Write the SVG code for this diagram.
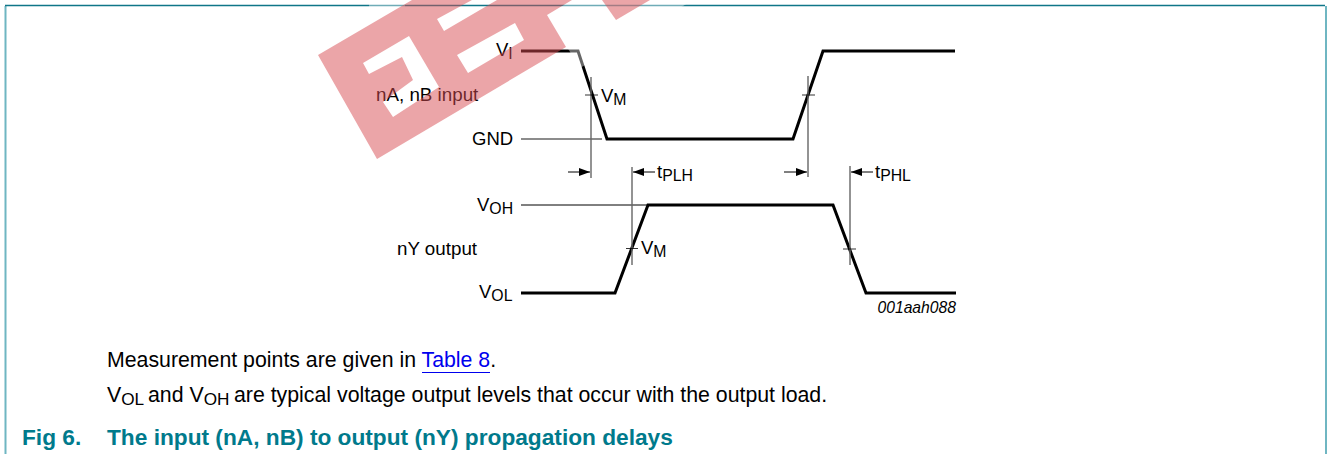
<svg xmlns="http://www.w3.org/2000/svg" width="1327" height="454" viewBox="0 0 1327 454">
<style>
text{font-family:"Liberation Sans",Arial,sans-serif;fill:#000}
.l{font-size:18.5px}
.n{font-size:18.8px}
.b{font-size:21.3px}
.s{baseline-shift:-3px;font-size:15.8px}
.b .s{font-size:17.2px}
.thick{fill:none;stroke:#000;stroke-width:3}
.thin{fill:none;stroke:#000;stroke-width:1}
.g{fill:none;stroke:#666;stroke-width:1.4}
.frame{fill:none;stroke-width:2}
.t{font-size:22.7px;font-weight:700;fill:#007a8c}
</style>
<defs>
<marker id="a" markerUnits="userSpaceOnUse" markerWidth="12" markerHeight="8" refX="11" refY="4" orient="auto"><path d="M0 0L11 4L0 8Z" fill="#000"/></marker>
</defs>
<rect width="1327" height="454" fill="#fff"/>
<g id="frame">
<path d="M5.5 454V6" class="frame" stroke="#6fb6c2"/>
<path d="M1326 454V6" class="frame" stroke="#6fb6c2"/>
<path d="M5 5.500H1325" fill="none" stroke="#0f7688" stroke-width="1.6"/>
</g>
<g id="waveforms">
<path class="thick" d="M521 51H578L607 139H793L823 51H955"/>
<path class="thick" d="M521 293H615L648 205H833L866 293H956"/>
<path class="g" d="M521 139H602"/>
<path class="thin" d="M521 205H648"/>
</g>
<g id="connectors">
<path class="g" d="M591 77V178M632 167V265M808 76V177M850 166V265"/>
<path class="thin" stroke-opacity=".8" d="M585 95H598M626 248.500H638M802 95H815M843 249H856"/>
<path class="thin" marker-end="url(#a)" d="M568 172H590"/>
<path class="thin" marker-end="url(#a)" d="M655 172H633"/>
<path class="thin" marker-end="url(#a)" d="M784 172H807"/>
<path class="thin" marker-end="url(#a)" d="M873 172H851"/>
</g>
<g id="labels">
<text class="l" x="496" y="56">V<tspan class="s">I</tspan></text>
<text class="n" x="376" y="101">nA, nB input</text>
<text class="l" x="601" y="101.500">V<tspan class="s">M</tspan></text>
<text class="l" x="472" y="144.500">GND</text>
<text class="l" x="657" y="178">t<tspan class="s">PLH</tspan></text>
<text class="l" x="875" y="178">t<tspan class="s">PHL</tspan></text>
<text class="l" x="477" y="211">V<tspan class="s">OH</tspan></text>
<text class="n" x="397" y="255">nY output</text>
<text class="l" x="641" y="254">V<tspan class="s">M</tspan></text>
<text class="l" x="479" y="298">V<tspan class="s">OL</tspan></text>
<text x="956" y="313" text-anchor="end" font-size="15.700" font-style="italic">001aah088</text>
</g>
<g id="notes">
<text class="b" x="107" y="367">Measurement points are given in <tspan fill="#0000ee">Table 8</tspan>.</text>
<path d="M422 372.500H490" stroke="#0000ee" stroke-width="1.200"/>
<text class="b" x="107" y="401.500">V<tspan class="s">OL</tspan><tspan x="148">and V</tspan><tspan class="s">OH</tspan><tspan x="234">are typical voltage output levels that occur with the output load.</tspan></text>
<text class="t" x="22" y="445">Fig 6.</text>
<text class="t" x="107" y="445">The input (nA, nB) to output (nY) propagation delays</text>
</g>
<g id="watermark">
<path fill="#fff" fill-opacity=".4" d="M547 15L580 68L693 0H572ZM369 4H405V7H369Z"/>
<path fill="#d84b51" fill-opacity=".5" fill-rule="evenodd" d="M318 55L377 159L566 47L547 15L572 0H412ZM457 55L515 23L524 40L468 73ZM437 19L472 0H497L444 31ZM363 63L409 36L439 87L393 117L383 102L413 80L402 57L369 74Z"/>
<path fill="#d84b51" fill-opacity=".5" d="M602 0L616 20L650 0Z"/>
</g>
</svg>
